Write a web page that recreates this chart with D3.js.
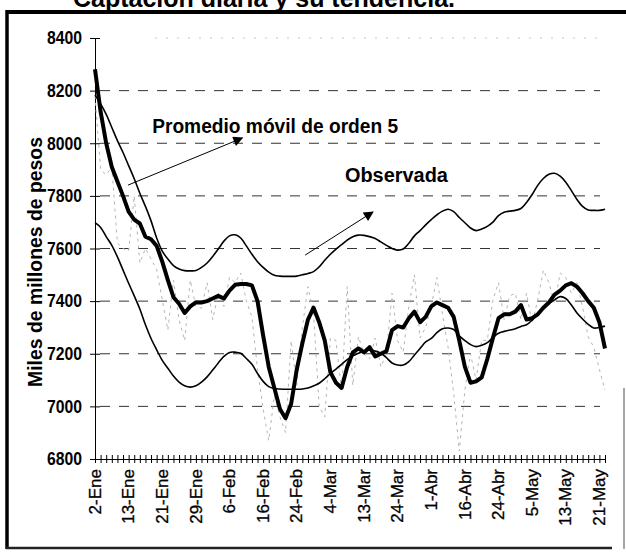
<!DOCTYPE html>
<html>
<head>
<meta charset="utf-8">
<script src="https://cdn.jsdelivr.net/npm/d3@7"></script>
<style>
  body { margin: 0; background: #fff; }
  svg { font-family: "Liberation Sans", Arial, sans-serif; }
</style>
</head>
<body>
<div class="chart"></div>
<script>
var width = 626
var height = 554

// valores diarios (miles de millones de pesos)
var observada = [8180, 7900, 7880, 7910, 7620, 7600, 7590, 7800, 7545, 7600,
    7560, 7520, 7405, 7290, 7480, 7330, 7250, 7480, 7380, 7373,
    7470, 7330, 7430, 7380, 7490, 7470, 7507, 7400, 7340, 7140,
    6990, 6870, 7040, 6960, 6900, 7250, 7080, 7300, 7455, 7350,
    7000, 6960, 7260, 7250, 7060, 7455, 7080, 7265, 7200, 7180,
    7260, 7150, 7200, 7430, 7250, 7206, 7380, 7500, 7260, 7300,
    7380, 7490, 7350, 7225, 7050, 6830, 7062, 7200, 7100, 7252,
    7250, 7404, 7470, 7330, 7420, 7430, 7330, 7430, 7316, 7404,
    7518, 7470, 7390, 7507, 7490, 7430, 7470, 7378, 7264, 7225,
    7140, 7062]

var promedio = [8281, 8120, 8000, 7910, 7855, 7800, 7740, 7710, 7695, 7645,
    7635, 7610, 7550, 7480, 7415, 7390, 7355, 7380, 7395, 7395,
    7400, 7410, 7420, 7410, 7440, 7462, 7465, 7465, 7460, 7400,
    7270, 7150, 7070, 6990, 6955, 7010, 7140, 7240, 7330, 7375,
    7320, 7250, 7130, 7090, 7070, 7150, 7205, 7220, 7205, 7225,
    7190, 7200, 7210, 7290, 7305, 7300, 7335, 7360, 7320, 7340,
    7380, 7395, 7385, 7375, 7340, 7250, 7150, 7090, 7095, 7110,
    7180, 7260, 7335, 7350, 7350, 7360, 7385, 7330, 7335, 7350,
    7375, 7395, 7425, 7440, 7460, 7468, 7455, 7430, 7400, 7375,
    7320, 7220]

var bandaSup = [8183, 8150, 8110, 8060, 8010, 7965, 7915, 7865, 7810, 7760,
    7705, 7640, 7590, 7560, 7535, 7522, 7516, 7515, 7516, 7528,
    7545, 7570, 7598, 7628, 7648, 7652, 7640, 7610, 7578, 7550,
    7528, 7510, 7498, 7495, 7494, 7494, 7495, 7500, 7505, 7512,
    7530, 7555, 7578, 7598, 7615, 7632, 7645, 7651, 7650, 7645,
    7638, 7625, 7612, 7600, 7594, 7598, 7620, 7648, 7668, 7690,
    7710, 7728, 7742, 7749, 7740, 7718, 7698, 7678, 7668, 7674,
    7684, 7700, 7725, 7738, 7742, 7745, 7752, 7775, 7805, 7840,
    7866, 7882, 7886, 7875, 7852, 7820, 7786, 7760, 7746, 7745,
    7745, 7749]

var bandaInf = [7698, 7680, 7645, 7612, 7568, 7518, 7468, 7420, 7370, 7310,
    7258, 7215, 7175, 7145, 7115, 7092, 7078, 7073, 7078, 7092,
    7112, 7138, 7165, 7190, 7205, 7206, 7202, 7182, 7160, 7125,
    7095, 7075, 7068, 7066, 7065, 7065, 7065, 7066, 7070, 7078,
    7088, 7105, 7125, 7142, 7160, 7178, 7192, 7202, 7210, 7214,
    7210, 7202, 7185, 7165, 7157, 7157, 7170, 7195, 7220, 7245,
    7258, 7280, 7295, 7298, 7292, 7268, 7250, 7235, 7227, 7232,
    7242, 7262, 7278, 7285, 7290, 7295, 7304, 7310, 7328, 7352,
    7375, 7390, 7405, 7417, 7410, 7385, 7355, 7332, 7312, 7298,
    7300, 7305]

// una etiqueta cada 6 dias habiles
var etiquetas = ['2-Ene', '13-Ene', '21-Ene', '29-Ene', '6-Feb', '16-Feb', '24-Feb', '4-Mar',
    '13-Mar', '24-Mar', '1-Abr', '16-Abr', '24-Abr', '5-May', '13-May', '21-May']
var pasoEtiqueta = 6
var yTicks = [6800, 7000, 7200, 7400, 7600, 7800, 8000, 8200, 8400]

var svg = d3.select('.chart').append('svg')
    .attr('width', width)
    .attr('height', height)

var scaleX = d3.scaleLinear().domain([0, promedio.length - 1]).range([95, 605])
var scaleY = d3.scaleLinear().domain([6800, 8400]).range([459, 38])

// titulo recortado y marco
svg.append('text')
    .attr('x', 455).attr('y', 7)
    .attr('text-anchor', 'end')
    .style('font-size', '25px').style('font-weight', 'bold')
    .text('Captación diaria y su tendencia.')
svg.append('line').attr('x1', 7).attr('x2', 626).attr('y1', 12).attr('y2', 12)
    .attr('stroke', '#000').attr('stroke-width', 4)
svg.append('line').attr('x1', 7).attr('x2', 7).attr('y1', 10).attr('y2', 549)
    .attr('stroke', '#000').attr('stroke-width', 3.5)
svg.append('line').attr('x1', 6).attr('x2', 612).attr('y1', 548).attr('y2', 548)
    .attr('stroke', '#222').attr('stroke-width', 2.5)
svg.append('line').attr('x1', 624).attr('x2', 624).attr('y1', 388).attr('y2', 549)
    .attr('stroke', '#888').attr('stroke-width', 1.5)

// rejilla punteada
svg.append('g').selectAll('line')
    .data(yTicks.filter(d => d > 6800 && d < 8400))
    .enter().append('line')
    .attr('x1', scaleX(0) + 5).attr('x2', 600)
    .attr('y1', d => scaleY(d)).attr('y2', d => scaleY(d))
    .attr('stroke', '#333').attr('stroke-width', 1)
    .attr('stroke-dasharray', '10,9')
svg.append('line')
    .attr('x1', scaleX(0) + 60).attr('x2', 600)
    .attr('y1', scaleY(8400)).attr('y2', scaleY(8400))
    .attr('stroke', '#bbb').attr('stroke-width', 0.8)
    .attr('stroke-dasharray', '2,9')

// eje Y con marcas cruzadas
var ejeY = svg.append('g')
    .attr('transform', 'translate(' + scaleX(0) + ',0)')
    .call(d3.axisLeft(scaleY).tickValues(yTicks).tickSize(5).tickPadding(8).tickFormat(d3.format('d')))
ejeY.select('.domain').attr('stroke', '#000')
ejeY.selectAll('.tick line').attr('x2', -5).attr('x1', 5).attr('stroke', '#000')
ejeY.selectAll('text')
    .style('font-size', '18px').style('font-weight', 'bold')
    .attr('textLength', 35).attr('lengthAdjust', 'spacingAndGlyphs')
    .attr('fill', '#000')

svg.append('text')
    .attr('transform', 'translate(42,262) rotate(-90)')
    .attr('text-anchor', 'middle')
    .style('font-size', '20px').style('font-weight', 'bold')
    .attr('textLength', 250).attr('lengthAdjust', 'spacingAndGlyphs')
    .text('Miles de millones de pesos')

// eje X: marca en cada dia
var ejeX = svg.append('g')
    .attr('transform', 'translate(0,' + scaleY(6800) + ')')
    .call(d3.axisBottom(scaleX).tickValues(d3.range(promedio.length)).tickSize(4).tickFormat(''))
ejeX.select('.domain').attr('stroke', '#000')
ejeX.selectAll('.tick line').attr('y1', -4).attr('stroke', '#000')

var ejeEtiquetas = svg.append('g')
    .attr('transform', 'translate(0,' + scaleY(6800) + ')')
    .call(d3.axisBottom(scaleX)
        .tickValues(etiquetas.map((d, i) => i * pasoEtiqueta))
        .tickSize(0)
        .tickFormat((d, i) => etiquetas[i]))
ejeEtiquetas.select('.domain').remove()
ejeEtiquetas.selectAll('text')
    .attr('transform', 'rotate(-90)')
    .attr('x', -10).attr('y', -1).attr('dy', '0.36em')
    .attr('text-anchor', 'end')
    .style('font-size', '17px').attr('fill', '#000')
    .attr('stroke', '#000').attr('stroke-width', 0.3)

// series
var linea = d3.line().x((d, i) => scaleX(i)).y(d => scaleY(d))
var lineaSuave = d3.line().x((d, i) => scaleX(i)).y(d => scaleY(d)).curve(d3.curveCatmullRom)

svg.append('path').datum(observada)
    .attr('d', linea)
    .attr('fill', 'none').attr('stroke', '#b5b5b5').attr('stroke-width', 1)
    .attr('stroke-dasharray', '3,4')
svg.append('path').datum(bandaSup)
    .attr('d', lineaSuave)
    .attr('fill', 'none').attr('stroke', '#000').attr('stroke-width', 1.6)
svg.append('path').datum(bandaInf)
    .attr('d', lineaSuave)
    .attr('fill', 'none').attr('stroke', '#000').attr('stroke-width', 1.6)
svg.append('path').datum(promedio)
    .attr('d', linea)
    .attr('fill', 'none').attr('stroke', '#000').attr('stroke-width', 4)
    .attr('stroke-linejoin', 'round')

// anotaciones con flecha
svg.append('defs').append('marker')
    .attr('id', 'punta').attr('viewBox', '0 0 10 10')
    .attr('refX', 9).attr('refY', 5)
    .attr('markerWidth', 16).attr('markerHeight', 10)
    .attr('markerUnits', 'userSpaceOnUse')
    .attr('orient', 'auto')
    .append('path').attr('d', 'M0,0 L10,5 L0,10 z').attr('fill', '#000')

var notas = [
    {texto: 'Promedio móvil de orden 5', largo: 246, tx: 10.2, ty: 8039, desde: [5.9, 7841], hasta: [26.3, 8020]},
    {texto: 'Observada', largo: 103, tx: 44.6, ty: 7853, desde: [37.5, 7575], hasta: [49.6, 7739]}
]
notas.forEach(n => {
    svg.append('line')
        .attr('x1', scaleX(n.desde[0])).attr('y1', scaleY(n.desde[1]))
        .attr('x2', scaleX(n.hasta[0])).attr('y2', scaleY(n.hasta[1]))
        .attr('stroke', '#000').attr('stroke-width', 1)
        .attr('marker-end', 'url(#punta)')
    svg.append('text')
        .attr('x', scaleX(n.tx)).attr('y', scaleY(n.ty))
        .style('font-size', '19.5px').style('font-weight', 'bold')
        .attr('textLength', n.largo).attr('lengthAdjust', 'spacingAndGlyphs')
        .text(n.texto)
})
</script>
</body>
</html>
